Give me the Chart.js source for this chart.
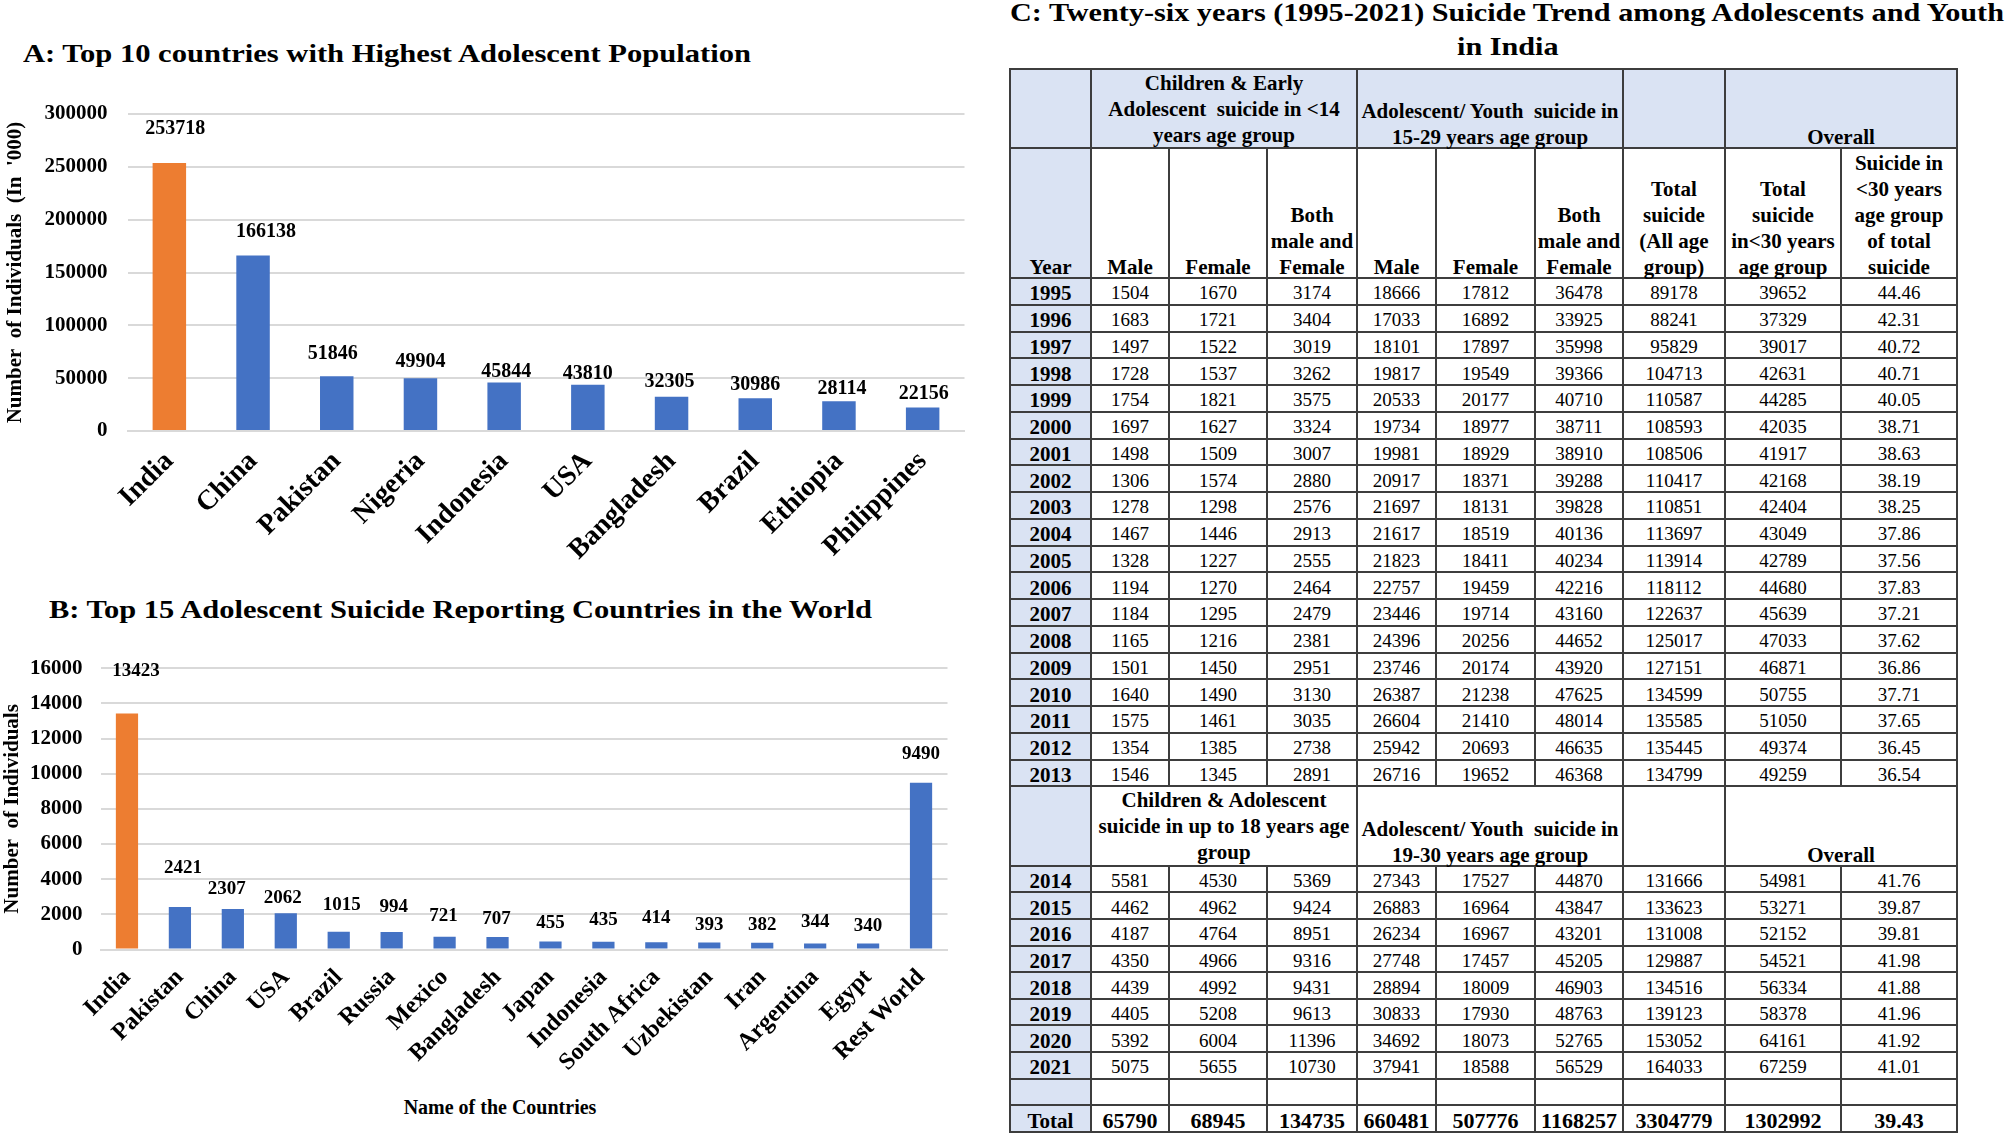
<!DOCTYPE html>
<html>
<head>
<meta charset="utf-8">
<script src="https://cdn.jsdelivr.net/npm/chart.js@4.4.1/dist/chart.umd.min.js"></script>
<style>
  body { margin: 0; width: 2008px; height: 1136px; overflow: hidden; background: #fff; font-family: 'Liberation Serif', 'Times New Roman', serif; }
  .title { position: absolute; white-space: nowrap; font-weight: bold; color: #000; line-height: 30px; transform-origin: left center; }
  canvas { position: absolute; left: 0; }
  #tbl {
    position: absolute; left: 1009px; top: 68px; display: grid; background: #3d3d3d; padding: 2px; gap: 2px;
    grid-template-columns: 79px 76px 96px 88px 77px 97px 86px 100px 114px 114px;
    grid-template-rows: 77px 128px repeat(19, 24.76px) 77.3px repeat(10, 24.67px);
  }
  .cell { background: #fff; display: flex; align-items: center; justify-content: center; text-align: center;
          font-size: 19px; color: #000; white-space: nowrap; line-height: 26px; }
  .cell > span { position: relative; top: 2px; }
  .hdr { font-weight: bold; font-size: 21px; }
  .hdr > span { top: 0; }
  .bot { align-items: flex-end; }
  .bot > span { top: 3px; }
  .blue { background: #dae3f3; }
  .yr { font-weight: bold; font-size: 21px; }
  .tot { font-weight: bold; font-size: 22px; }
</style>
</head>
<body>
<div class="title" id="titleA" style="left:23px; top:39px; font-size:25px;">A: Top 10 countries with Highest Adolescent Population</div>
<div class="title" id="titleB" style="left:49px; top:595px; font-size:25px;">B: Top 15 Adolescent Suicide Reporting Countries in the World</div>
<div class="title" id="titleC1" style="left:1010px; top:-2px; font-size:26px;">C: Twenty-six years (1995-2021) Suicide Trend among Adolescents and Youth</div>
<div class="title" id="titleC2" style="left:1458px; top:32px; font-size:26px;">in India</div>
<div class="title" id="xTitleB" style="left:400px; top:1092px; font-size:20px;">Name of the Countries</div>

<canvas id="chartA" width="990" height="580" style="top:0px;"></canvas>
<canvas id="chartB" width="990" height="556" style="top:580px;"></canvas>
<div id="tbl"></div>

<script>
// ---- Chart A: adolescent population (in '000)
const popCountries = ['India', 'China', 'Pakistan', 'Nigeria', 'Indonesia', 'USA', 'Bangladesh', 'Brazil', 'Ethiopia', 'Philippines'];
const popValues = [253718, 166138, 51846, 49904, 45844, 43810, 32305, 30986, 28114, 22156];
const popTicks = [0, 50000, 100000, 150000, 200000, 250000, 300000];

// ---- Chart B: adolescent suicides by country
const suicideCountries = ['India', 'Pakistan', 'China', 'USA', 'Brazil', 'Russia', 'Mexico', 'Bangladesh', 'Japan', 'Indonesia', 'South Africa', 'Uzbekistan', 'Iran', 'Argentina', 'Egypt', 'Rest World'];
const suicideValues = [13423, 2421, 2307, 2062, 1015, 994, 721, 707, 455, 435, 414, 393, 382, 344, 340, 9490];
const suicideTicks = [0, 2000, 4000, 6000, 8000, 10000, 12000, 14000, 16000];

// ---- Table C: suicide trend in India 1995-2021
const years = [1995, 1996, 1997, 1998, 1999, 2000, 2001, 2002, 2003, 2004, 2005, 2006, 2007, 2008, 2009, 2010, 2011, 2012, 2013,
               2014, 2015, 2016, 2017, 2018, 2019, 2020, 2021];
const childMale = [1504, 1683, 1497, 1728, 1754, 1697, 1498, 1306, 1278, 1467, 1328, 1194, 1184, 1165, 1501, 1640, 1575, 1354, 1546,
                   5581, 4462, 4187, 4350, 4439, 4405, 5392, 5075];
const childFemale = [1670, 1721, 1522, 1537, 1821, 1627, 1509, 1574, 1298, 1446, 1227, 1270, 1295, 1216, 1450, 1490, 1461, 1385, 1345,
                     4530, 4962, 4764, 4966, 4992, 5208, 6004, 5655];
const childBoth = [3174, 3404, 3019, 3262, 3575, 3324, 3007, 2880, 2576, 2913, 2555, 2464, 2479, 2381, 2951, 3130, 3035, 2738, 2891,
                   5369, 9424, 8951, 9316, 9431, 9613, 11396, 10730];
const youthMale = [18666, 17033, 18101, 19817, 20533, 19734, 19981, 20917, 21697, 21617, 21823, 22757, 23446, 24396, 23746, 26387, 26604, 25942, 26716,
                   27343, 26883, 26234, 27748, 28894, 30833, 34692, 37941];
const youthFemale = [17812, 16892, 17897, 19549, 20177, 18977, 18929, 18371, 18131, 18519, 18411, 19459, 19714, 20256, 20174, 21238, 21410, 20693, 19652,
                     17527, 16964, 16967, 17457, 18009, 17930, 18073, 18588];
const youthBoth = [36478, 33925, 35998, 39366, 40710, 38711, 38910, 39288, 39828, 40136, 40234, 42216, 43160, 44652, 43920, 47625, 48014, 46635, 46368,
                   44870, 43847, 43201, 45205, 46903, 48763, 52765, 56529];
const totalAll = [89178, 88241, 95829, 104713, 110587, 108593, 108506, 110417, 110851, 113697, 113914, 118112, 122637, 125017, 127151, 134599, 135585, 135445, 134799,
                  131666, 133623, 131008, 129887, 134516, 139123, 153052, 164033];
const totalUnder30 = [39652, 37329, 39017, 42631, 44285, 42035, 41917, 42168, 42404, 43049, 42789, 44680, 45639, 47033, 46871, 50755, 51050, 49374, 49259,
                      54981, 53271, 52152, 54521, 56334, 58378, 64161, 67259];
const pctUnder30 = ['44.46', '42.31', '40.72', '40.71', '40.05', '38.71', '38.63', '38.19', '38.25', '37.86', '37.56', '37.83', '37.21', '37.62', '36.86', '37.71', '37.65', '36.45', '36.54',
                    '41.76', '39.87', '39.81', '41.98', '41.88', '41.96', '41.92', '41.01'];
const totalsRow = ['65790', '68945', '134735', '660481', '507776', '1168257', '3304779', '1302992', '39.43'];

const ORANGE = '#ED7D31';
const BLUE = '#4472C4';
const SERIF = "'Liberation Serif', 'Times New Roman', serif";

// value labels above bars (lift = px above bar top, dx = sideways nudge)
const barLabels = {
    id: 'barLabels',
    afterDatasetsDraw(chart, args, opts) {
        const ctx = chart.ctx;
        const meta = chart.getDatasetMeta(0);
        const data = chart.data.datasets[0].data;
        ctx.save();
        ctx.font = opts.font;
        ctx.fillStyle = '#000';
        ctx.textAlign = 'center';
        ctx.textBaseline = 'middle';
        meta.data.forEach((bar, i) => {
            ctx.fillText(String(data[i]), bar.x + (opts.dx[i] || 0), bar.y - opts.lift[i]);
        });
        ctx.restore();
    }
};

function barChart(id, labels, values, ticks, cfg) {
    return new Chart(document.getElementById(id), {
        type: 'bar',
        data: {
            labels: labels,
            datasets: [{
                data: values,
                backgroundColor: values.map((v, i) => i === 0 ? ORANGE : BLUE),
                categoryPercentage: 1,
                barPercentage: cfg.barPct
            }]
        },
        options: {
            responsive: false,
            animation: false,
            layout: { padding: { top: cfg.top, right: cfg.right, left: 0, bottom: 0 } },
            plugins: {
                legend: { display: false },
                tooltip: { enabled: false },
                barLabels: { font: cfg.labelFont, lift: cfg.lift, dx: cfg.dx }
            },
            scales: {
                x: {
                    grid: { display: false },
                    border: { color: '#d9d9d9', width: 2 },
                    ticks: { color: '#000', font: { family: SERIF, size: cfg.xFont, weight: 'bold' },
                             maxRotation: 45, minRotation: 45, autoSkip: false, padding: cfg.xPad },
                    afterFit: s => { s.height = cfg.xHeight; }
                },
                y: {
                    min: ticks[0],
                    max: ticks[ticks.length - 1],
                    grid: { color: '#d9d9d9', lineWidth: 2, drawTicks: false },
                    border: { display: false },
                    ticks: { stepSize: ticks[1] - ticks[0], color: '#000', padding: cfg.yPad,
                             font: { family: SERIF, size: 21, weight: 'bold' }, callback: v => String(v) },
                    title: { display: true, text: cfg.yTitle, color: '#000',
                             font: { family: SERIF, size: 21, weight: 'bold' }, padding: { top: cfg.yTitlePad, bottom: 0 } },
                    afterFit: s => { s.width = cfg.yWidth; }
                }
            }
        },
        plugins: [barLabels]
    });
}

barChart('chartA', popCountries, popValues, popTicks, {
    barPct: 0.4, top: 114, right: 25.5, yWidth: 127.5, xHeight: 149, yPad: 20, xPad: 6, xFont: 28,
    yTitle: "Number  of Individuals  (In  '000)", yTitlePad: 3,
    labelFont: 'bold 20px ' + SERIF,
    lift: [34, 24, 22, 16, 11, 11, 15, 13, 12, 14],
    dx: [6, 13, -4, 0, 2, 0, -2, 0, 3, 1]
});

barChart('chartB', suicideCountries, suicideValues, suicideTicks, {
    barPct: 0.42, top: 88.3, right: 42.5, yWidth: 100.5, xHeight: 186.5, yPad: 18, xPad: 6, xFont: 24,
    yTitle: 'Number  of Individuals', yTitlePad: 0,
    labelFont: 'bold 19px ' + SERIF,
    lift: [42, 39, 20, 15, 27, 25, 21, 18, 18, 22, 24, 17, 18, 21, 17, 29],
    dx: [9, 3, -6, -3, 3, 2, -1, -1, 0, 0, 0, 0, 0, 0, 0, 0]
});

// ---- titles: stretch the serif text to the width it has in the figure
function fitWidth(id, w) {
    const el = document.getElementById(id);
    const r = el.getBoundingClientRect().width;
    el.style.transform = 'scaleX(' + (w / r) + ')';
    return w / r;
}
fitWidth('titleA', 728);
fitWidth('titleB', 823);
const kC = fitWidth('titleC1', 994);
const c2 = document.getElementById('titleC2');
c2.style.transform = 'scaleX(' + kC + ')';
c2.style.left = (1508 - c2.getBoundingClientRect().width / 2) + 'px';
const xt = document.getElementById('xTitleB');
xt.style.left = (500 - xt.getBoundingClientRect().width / 2) + 'px';

// ---- table C
const tbl = document.getElementById('tbl');
function cell(html, cls, col, span) {
    const d = document.createElement('div');
    d.className = 'cell ' + (cls || '');
    d.innerHTML = html === '' ? '' : '<span>' + html + '</span>';
    if (col) d.style.gridColumn = col + (span ? ' / span ' + span : '');
    tbl.appendChild(d);
}
function groupHeader(first, second, bg) {
    cell('', 'blue');
    cell(first, 'hdr ' + bg, 2, 3);
    cell(second, 'hdr bot ' + bg, 5, 3);
    cell('', bg);
    cell('Overall', 'hdr bot ' + bg, 9, 2);
}
function dataRow(i) {
    cell(String(years[i]), 'yr blue');
    [childMale, childFemale, childBoth, youthMale, youthFemale, youthBoth, totalAll, totalUnder30, pctUnder30]
        .forEach(col => cell(String(col[i])));
}

groupHeader('Children &amp; Early<br>Adolescent&nbsp; suicide in &lt;14<br>years age group',
            'Adolescent/ Youth&nbsp; suicide in<br>15-29 years age group', 'blue');
['Year', 'Male', 'Female', 'Both<br>male and<br>Female', 'Male', 'Female', 'Both<br>male and<br>Female',
 'Total<br>suicide<br>(All age<br>group)', 'Total<br>suicide<br>in&lt;30 years<br>age group',
 'Suicide in<br>&lt;30 years<br>age group<br>of total<br>suicide']
    .forEach((h, i) => cell(h, 'hdr bot' + (i === 0 ? ' blue' : '')));
for (let i = 0; i < 19; i++) dataRow(i);
groupHeader('Children &amp; Adolescent<br>suicide in up to 18 years age<br>group',
            'Adolescent/ Youth&nbsp; suicide in<br>19-30 years age group', '');
for (let i = 19; i < years.length; i++) dataRow(i);
cell('', 'blue');
for (let i = 0; i < 9; i++) cell('');
cell('Total', 'yr blue');
totalsRow.forEach(v => cell(v, 'tot'));
</script>
</body>
</html>
